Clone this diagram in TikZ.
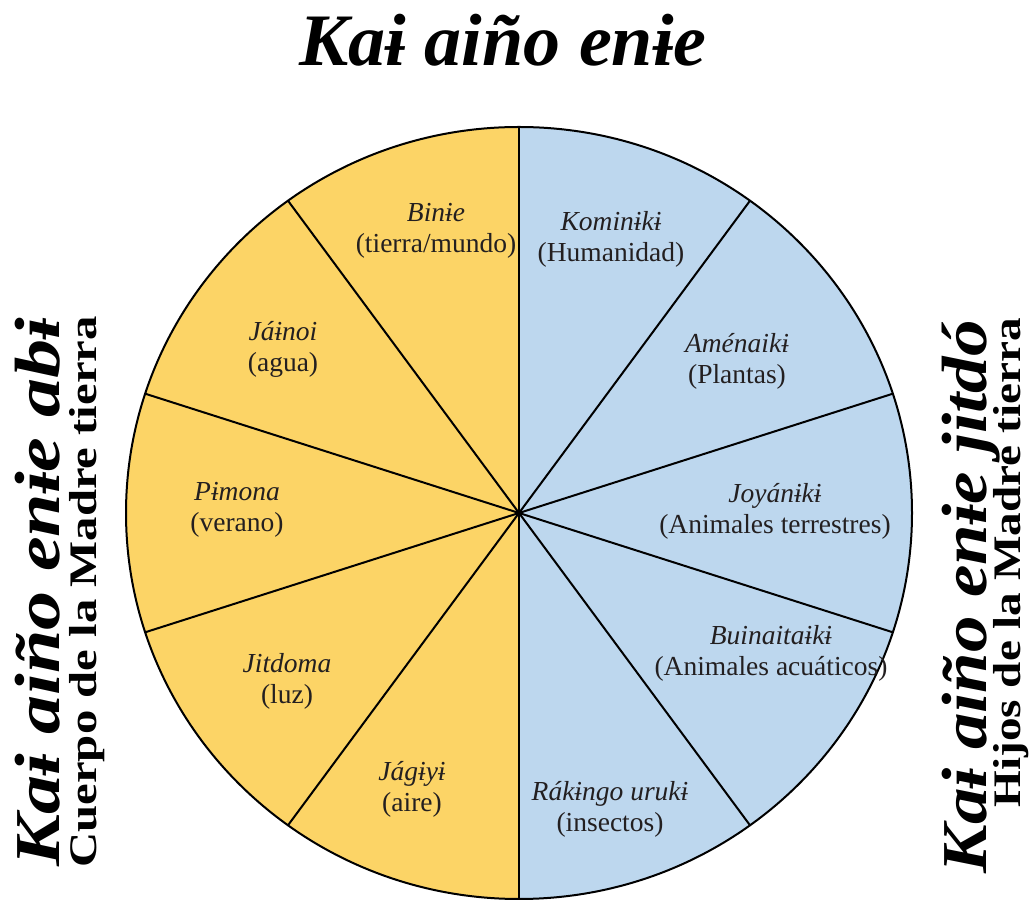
\documentclass[tikz,border=0pt]{standalone}
\usepackage{fontspec}
\usepackage{graphicx}
\setmainfont{Liberation Serif}
\definecolor{yfill}{HTML}{FCD466}
\definecolor{bfill}{HTML}{BDD7EE}
\definecolor{ink}{HTML}{231F20}
\begin{document}
\begin{tikzpicture}[x=1pt,y=1pt,
  lbl/.style={align=center, font=\fontsize{27.5}{31}\selectfont, text=ink, inner sep=0pt},
  sep/.style={draw=black, line width=2pt},
  titlef/.style={font=\fontsize{74}{80}\selectfont\bfseries\itshape, inner sep=0pt},
  sidea/.style={font=\fontsize{64}{70}\selectfont\bfseries\itshape, inner sep=0pt, rotate=90, anchor=base east},
  sideb/.style={font=\fontsize{39}{44}\selectfont\bfseries, inner sep=0pt, rotate=90, anchor=base east}]
\useasboundingbox (0,0) rectangle (1031,902);
\coordinate (c) at (519,389);
\def\rx{393}\def\ry{386}
\fill[yfill] (519,{389+\ry}) arc[start angle=90, end angle=270, x radius=\rx, y radius=\ry] -- cycle;
\fill[bfill] (519,{389-\ry}) arc[start angle=-90, end angle=90, x radius=\rx, y radius=\ry] -- cycle;
\foreach \a/\n in {90/p1,126/p2,162/p3,198/p4,234/p5,270/p6,54/q1,18/q2,-18/q3,-54/q4}{
  \path (c) ++ ({\rx*cos(\a)},{\ry*sin(\a)}) coordinate (\n);
}
\foreach \n in {p1,p2,p3,p4,p5,p6,q1,q2,q3,q4}{ \draw[sep] (c) -- (\n); }
\draw[sep] (c) ellipse[x radius=\rx, y radius=\ry];
% labels
\node[lbl] (binie) at (436,{902-231}) {\textit{Binɨe}\\(tierra/mundo)};
\node[lbl] (kominiki) at (611,{902-239}) {\textit{Kominɨkɨ}\\(Humanidad)};
\node[lbl] (jainoi) at (283,{902-349}) {\textit{Jáɨnoi}\\(agua)};
\node[lbl] (amenaiki) at (737,{902-361}) {\textit{Aménaikɨ}\\(Plantas)};
\node[lbl] (pimona) at (237,{902-510}) {\textit{Pɨmona}\\(verano)};
\node[lbl] (joyaniki) at (775,{902-511}) {\textit{Joyánɨkɨ}\\(Animales terrestres)};
\node[lbl] (jitdoma) at (287,{902-681}) {\textit{Jitdoma}\\(luz)};
\node[lbl] (buinaitaiki) at (771,{902-653}) {\textit{Buinaitaɨkɨ}\\(Animales acuáticos)};
\node[lbl] (jagiyi) at (412,{902-789}) {\textit{Jágɨyɨ}\\(aire)};
\node[lbl] (rakingo) at (610,{902-809}) {\textit{Rákɨngo urukɨ}\\(insectos)};
% titles
\node[titlef] (title) at (503,{902-40}) {Kaɨ aiño enɨe};
\node[sidea] (lefta) at (59,{902-318}) {\scalebox{1.22}[1]{Kaɨ aiño enɨe abɨ}};
\node[sideb] (leftb) at (96,{902-316}) {\scalebox{1.25}[1]{Cuerpo de la Madre tierra}};
\node[sidea] (righta) at (986,{902-320}) {\scalebox{1.14}[1]{Kaɨ aiño enɨe jitdó}};
\node[sideb] (rightb) at (1020,{902-318}) {\scalebox{1.21}[1]{Hijos de la Madre tierra}};
\end{tikzpicture}
\end{document}
